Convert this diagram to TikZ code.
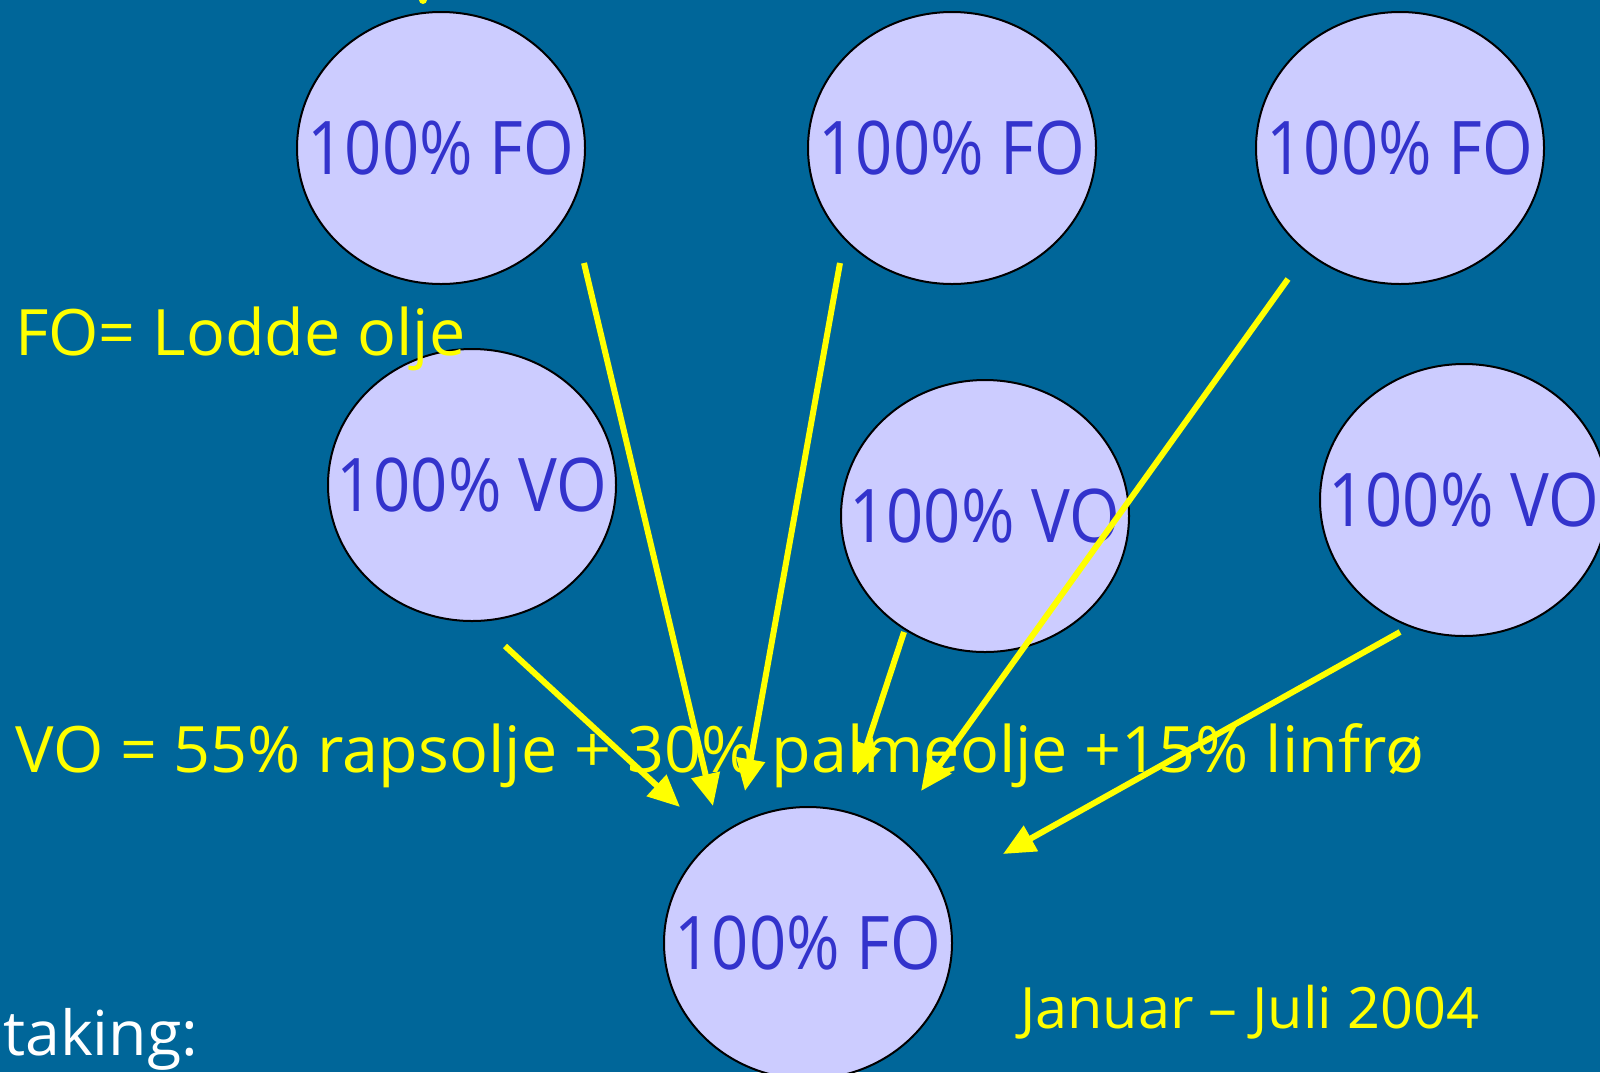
\documentclass[tikz,border=0pt]{standalone}
\usepackage{fontspec}
\setmainfont{Open Sans}
\newfontfamily\ellfont[FakeStretch=0.88]{Open Sans}
\newfontfamily\lblfont[FakeStretch=1.01]{Open Sans}
\usetikzlibrary{shapes.geometric,arrows.meta}
\definecolor{bgblue}{RGB}{0,102,153}
\definecolor{lav}{RGB}{204,204,255}
\definecolor{inkblue}{RGB}{51,51,204}
\definecolor{ylw}{RGB}{255,255,0}
\tikzset{
  oil/.style={ellipse, draw=black, line width=2pt, fill=lav, minimum width=288pt, minimum height=272pt, inner sep=0pt,
    label={[inner sep=0pt, font=\ellfont\fontsize{74}{80}\selectfont, text=inkblue]center:#1}},
  lbl/.style={anchor=base west, inner sep=0pt, text=ylw, font=\lblfont\fontsize{64}{70}\selectfont},
  flow/.style={draw=ylw, line width=6pt, -{Triangle[length=32pt,width=28pt]}}
}
\begin{document}
\begin{tikzpicture}[x=1pt,y=-1pt]
\fill[bgblue] (0,0) rectangle (1600,1072);
\useasboundingbox (0,0) rectangle (1600,1072);
\clip (0,0) rectangle (1600,1072);
\fill[ylw] (423,0) circle (4);
% ellipses
\node[oil={100\% FO}] (fo1) at (441,148) {};
\node[oil={100\% FO}] (fo2) at (952,148) {};
\node[oil={100\% FO}] (fo3) at (1400,148) {};
\node[oil={100\% VO}] (vo1) at (472,485) {};
\node[oil={100\% VO}] (vo2) at (985,516) {};
\node[oil={100\% VO}] (vo3) at (1464,500) {};
\node[oil={100\% FO}] (fob) at (808,943) {};
% labels
\node[lbl] (folbl) at (15,355) {FO= Lodde olje};
\node[lbl] (volbl) at (15,772) {VO = 55\% rapsolje + 30\% palmeolje +15\% linfrø};
\node[lbl, font=\lblfont\fontsize{57}{62}\selectfont] (date) at (1020,1028) {Januar – Juli 2004};
\node[lbl, text=white, font=\lblfont\fontsize{62}{68}\selectfont] (taking) at (3,1055) {taking:};
% arrow ends
\coordinate (s1) at (584,263);  \coordinate (e1) at (713,806);
\coordinate (s2) at (840,263);  \coordinate (e2) at (745,791);
\coordinate (s3) at (1288,279); \coordinate (e3) at (921,791);
\coordinate (s4) at (505,646);  \coordinate (e4) at (680,807);
\coordinate (s5) at (904,632);  \coordinate (e5) at (857,775);
\coordinate (s6) at (1400,632); \coordinate (e6) at (1003,854);
\draw[flow] (s1) -- (e1);
\draw[flow] (s2) -- (e2);
\draw[flow] (s3) -- (e3);
\draw[flow] (s4) -- (e4);
\draw[flow] (s5) -- (e5);
\draw[flow] (s6) -- (e6);
\end{tikzpicture}
\end{document}
